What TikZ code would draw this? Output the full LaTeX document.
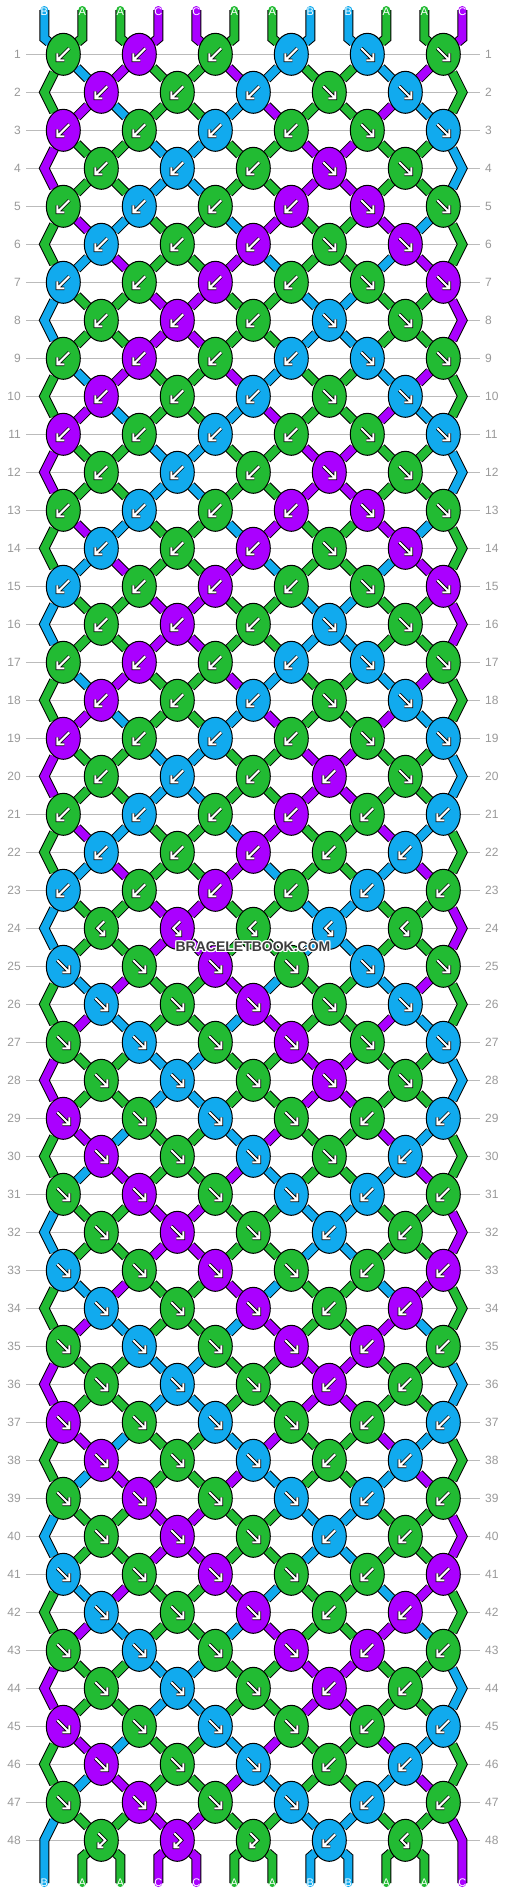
\documentclass[tikz,border=0pt]{standalone}
\usepackage{fontspec}
\setmainfont{Liberation Sans}
\usetikzlibrary{shapes.geometric}

\definecolor{colA}{HTML}{22BB33}
\definecolor{colB}{HTML}{11AAEE}
\definecolor{colC}{HTML}{AA00FF}
\definecolor{rulegray}{HTML}{BBBBBB}
\definecolor{numgray}{HTML}{999999}
\definecolor{markgray}{HTML}{3C3C3C}

\pgfdeclarelayer{back}
\pgfdeclarelayer{threads}
\pgfsetlayers{back,threads,main}

\def\typeb{b}
\def\typef{f}
\def\typefb{fb}

\tikzset{
  knot/.style={ellipse, draw=black, line width=1pt, minimum width=34pt,
    minimum height=42pt, inner sep=0pt},
  thread/.style={line width=8pt, preaction={draw=black, line width=10pt}},
  rowrule/.style={rulegray, line width=1pt, shorten <=5pt, shorten >=5pt},
  rownum/.style={text=numgray, inner sep=0pt, font=\fontsize{12}{14}\selectfont},
  letter/.style={text=white, inner sep=0pt, font=\fontsize{11}{13}\selectfont},
  wmark/.style={inner sep=0pt, font=\bfseries\fontsize{14}{16}\selectfont},
  arrowline/.style={draw=white, line width=2pt, preaction={draw=black, line width=3.6pt}},
  pics/arrb/.style={code={\draw[arrowline] (6,-6) -- (-5,5) (-6,-1) -- (-6,6) -- (1,6);}},
  pics/arrf/.style={code={\draw[arrowline] (-6,-6) -- (5,5) (6,-1) -- (6,6) -- (-1,6);}},
  pics/arrbf/.style={code={\draw[arrowline] (3,-7) -- (-4,0) -- (2.3,6.3) (3,2) -- (3,7) -- (-2,7);}},
  pics/arrfb/.style={code={\draw[arrowline] (-3,-7) -- (4,0) -- (-2.3,6.3) (-3,2) -- (-3,7) -- (2,7);}},
}

\begin{document}
\begin{tikzpicture}[x=1pt, y=-1pt]
\useasboundingbox (0,0) rectangle (506,1896);
\begin{pgfonlayer}{back}
  \fill[white] (0,0) rectangle (506,1896);
\end{pgfonlayer}

% threads at the top
\foreach \lt [count=\pos from 0] in {B,A,A,C,C,A,A,B,B,A,A,C}{
  \expandafter\xdef\csname s\pos\endcsname{\lt}
  \pgfmathsetmacro\sx{44.3+38*\pos}
  \coordinate (tend-\pos) at (\sx,10);
  \coordinate (tbend-\pos) at (\sx,38.3);
  \coordinate (bbend-\pos) at (\sx,1857);
  \coordinate (bend-\pos) at (\sx,1883);
  \node[letter] (top-\pos) at (\sx,12) {\lt};
}

\foreach \rw/\ks in {
  1/{b,b,b,b,f,f}, 2/{b,b,b,f,f}, 3/{b,b,b,b,f,f}, 4/{b,b,b,f,f},
  5/{b,b,b,b,f,f}, 6/{b,b,b,f,f}, 7/{b,b,b,b,f,f}, 8/{b,b,b,f,f},
  9/{b,b,b,b,f,f}, 10/{b,b,b,f,f}, 11/{b,b,b,b,f,f}, 12/{b,b,b,f,f},
  13/{b,b,b,b,f,f}, 14/{b,b,b,f,f}, 15/{b,b,b,b,f,f}, 16/{b,b,b,f,f},
  17/{b,b,b,b,f,f}, 18/{b,b,b,f,f}, 19/{b,b,b,b,f,f}, 20/{b,b,b,b,f},
  21/{b,b,b,b,b,b}, 22/{b,b,b,b,b}, 23/{b,b,b,b,b,b}, 24/{bf,bf,bf,bf,bf},
  25/{f,f,f,f,f,f}, 26/{f,f,f,f,f}, 27/{f,f,f,f,f,f}, 28/{f,f,f,f,f},
  29/{f,f,f,f,b,b}, 30/{f,f,f,f,b}, 31/{f,f,f,f,b,b}, 32/{f,f,f,b,b},
  33/{f,f,f,f,b,b}, 34/{f,f,f,b,b}, 35/{f,f,f,f,b,b}, 36/{f,f,f,b,b},
  37/{f,f,f,f,b,b}, 38/{f,f,f,b,b}, 39/{f,f,f,f,b,b}, 40/{f,f,f,b,b},
  41/{f,f,f,f,b,b}, 42/{f,f,f,b,b}, 43/{f,f,f,f,b,b}, 44/{f,f,f,b,b},
  45/{f,f,f,f,b,b}, 46/{f,f,f,b,b}, 47/{f,f,f,f,b,b}, 48/{fb,fb,fb,b,bf}}{
  \pgfmathsetmacro\ry{54.3+38*(\rw-1)}
  \pgfmathtruncatemacro\off{1-mod(\rw,2)}
  \pgfmathtruncatemacro\rp{\rw-1}
  \pgfmathtruncatemacro\rpp{\rw-2}
  \node[rownum, anchor=east] (ln-\rw) at (21,\ry) {\rw};
  \node[rownum, anchor=west] (rn-\rw) at (485,\ry) {\rw};
  \begin{pgfonlayer}{back}
    \draw[rowrule] (ln-\rw.east) -- (rn-\rw.west);
  \end{pgfonlayer}
  \ifnum\off=1
    \coordinate (e-\rw-0) at (44.3,\ry);
    \coordinate (e-\rw-11) at (462.3,\ry);
  \fi
  % knots
  \foreach \kk [count=\n from 0] in \ks{
    \pgfmathtruncatemacro\p{2*\n+\off}
    \pgfmathtruncatemacro\q{\p+1}
    \pgfmathsetmacro\kx{63.3+38*\p}
    \edef\kt{\kk}
    \ifx\kt\typef \edef\kc{\csname s\p\endcsname}\else
    \ifx\kt\typefb \edef\kc{\csname s\p\endcsname}\else
      \edef\kc{\csname s\q\endcsname}\fi\fi
    \node[knot, fill=col\kc] (k-\rw-\p) at (\kx,\ry) {};
    \pic at (k-\rw-\p) {arr\kt};
  }
  % threads into this row
  \begin{pgfonlayer}{threads}
  \foreach \pos in {0,...,11}{
    \edef\tc{col\csname s\pos\endcsname}
    \pgfmathtruncatemacro\pa{\off+2*floor((\pos-\off)/2)}
    \pgfmathtruncatemacro\pb{1-\off+2*floor((\pos-1+\off)/2)}
    \pgfmathtruncatemacro\isedge{(\pos==0)||(\pos==11)}
    \ifnum\rw=1
      \draw[thread, line cap=round, draw=\tc] (tend-\pos) -- (tbend-\pos) -- (k-1-\pa);
    \else\ifnum\isedge=1
      \ifnum\off=0
        \draw[thread, draw=\tc] (k-\rpp-\pa) -- (e-\rp-\pos) -- (k-\rw-\pa);
      \fi
    \else
      \draw[thread, draw=\tc] (k-\rp-\pb) -- (k-\rw-\pa);
    \fi\fi
  }
  \end{pgfonlayer}
  % threads change places
  \foreach \kk [count=\n from 0] in \ks{
    \pgfmathtruncatemacro\p{2*\n+\off}
    \pgfmathtruncatemacro\q{\p+1}
    \edef\kt{\kk}
    \def\doswap{0}
    \ifx\kt\typeb \def\doswap{1}\fi
    \ifx\kt\typef \def\doswap{1}\fi
    \ifnum\doswap=1
      \edef\La{\csname s\p\endcsname}
      \edef\Ra{\csname s\q\endcsname}
      \expandafter\xdef\csname s\p\endcsname{\Ra}
      \expandafter\xdef\csname s\q\endcsname{\La}
    \fi
  }
}

% threads at the bottom
\begin{pgfonlayer}{threads}
\foreach \pos in {0,...,11}{
  \edef\tc{col\csname s\pos\endcsname}
  \pgfmathtruncatemacro\pa{1+2*floor((\pos-1)/2)}
  \ifnum\pos=0
    \draw[thread, line cap=round, draw=\tc] (k-47-0) -- (e-48-0) -- (bend-0);
  \else\ifnum\pos=11
    \draw[thread, line cap=round, draw=\tc] (k-47-10) -- (e-48-11) -- (bend-11);
  \else
    \draw[thread, line cap=round, draw=\tc] (k-48-\pa) -- (bbend-\pos) -- (bend-\pos);
  \fi\fi
}
\end{pgfonlayer}
\foreach \pos in {0,...,11}{
  \node[letter] (bot-\pos) at (bend-\pos) {\csname s\pos\endcsname};
}

\foreach \hx/\hy [count=\h] in {254/946.7, 252/946.7, 253/947.7, 253/945.7,
    254/947.7, 252/945.7, 254/945.7, 252/947.7}{
  \node[wmark, text=white] (halo-\h) at (\hx,\hy) {BRACELETBOOK.COM};
}
\node[wmark, text=markgray] (mark) at (253,946.7) {BRACELETBOOK.COM};
\end{tikzpicture}
\end{document}
